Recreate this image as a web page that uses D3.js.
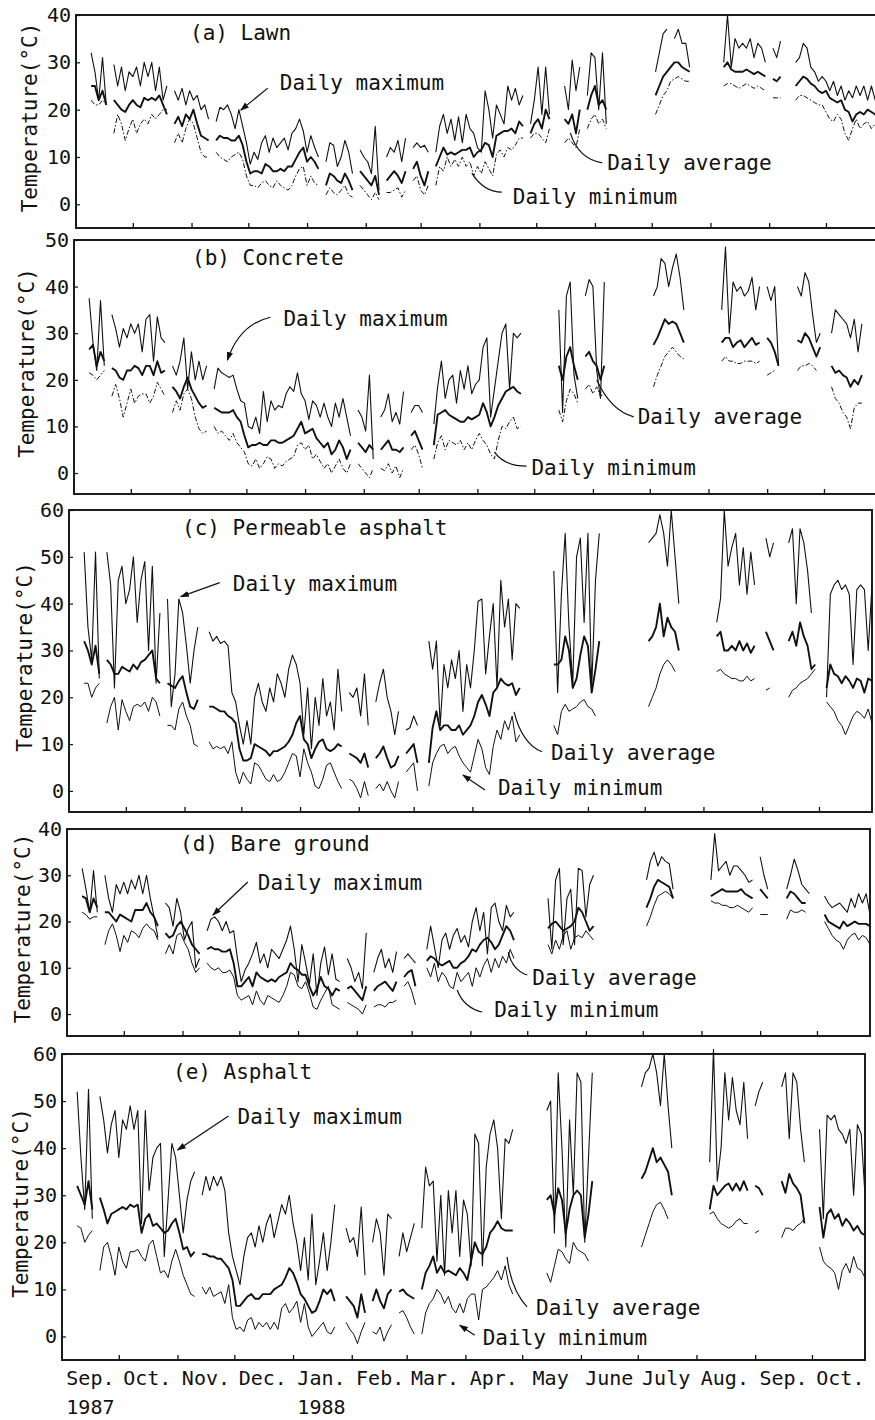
<!DOCTYPE html>
<html>
<head>
<meta charset="utf-8">
<script src="https://cdn.jsdelivr.net/npm/d3@7"></script>
<style>
    body {margin: 0; background: #fff;}
    svg text {font-family: "DejaVu Sans Mono", "Liberation Mono", monospace; fill: #111;}
</style>
</head>
<body>
<div class="content"></div>
<script>
const _ = null;
// one reading every 2 days from 1 Sep 1987, one row per month (Sep 87 ... Oct 88)
const lawnMax = [
    _,_,_,_,32,28,22,31,21,_,29.5,25,29,24,28,
    27,29,25,30,27,30,24,29,22,25,_,24,22,24.5,21,24,
    22,23,20,21,18,_,17.5,20.5,20,21,19,16,20,16.5,13,
    8.5,11,9.5,13,14.5,11,14,12,13,14,11.5,15,16,18,15.5,
    11,14.5,12,10,_,9,13,12.5,8,10,13.5,11,6.5,_,11.5,10,
    9,6.5,16.5,3,_,10,12,11,13.5,9,14,_,12,13,
    12,12.5,11,_,11,16.5,19,15,18,13.5,18.5,13,19,16,15,12,
    11,24,20,14,21,19,17,25,22,24.5,21,23,_,17,22,
    29,19,29,19,_,_,_,25,20,30.5,24,29,_,23,32,
    31,20,32,17,_,_,_,_,_,_,_,_,_,_,_,
    _,28,32,36,37,_,35,37,34,34,29,_,_,_,_,_,
    _,_,_,30,40,29,35,33,34,33,35,31,34,33,30,
    _,33,31,34.5,_,_,_,30,31,34,33,29,28,26,27,
    26,24,26,23,25,22,24,22.5,25,23,25,22,25,22,25,23
];
const lawnAvg = [
    _,_,_,_,25,25,22,24,21,_,22,21,20,19.5,21,
    22,21,20.5,22.5,22,22.5,22,23,21,19,_,17,18.5,16.5,19,18,
    20,17,14.5,14,13.5,_,13.5,14.5,14,14,13.5,13.5,14.5,12.5,9,
    6.5,7,7,6.5,8.5,8,7,7,7.5,7,8,8,9.5,11,12,
    9,10,9,7.5,_,4,6.5,6,5,4.5,6.5,5,3,_,7,6,
    5,4,6,2,_,5,6,7,6,4.5,7,_,7.5,9,
    6,4,7,_,8,10,12,10.5,11,10.5,11,11.5,11.5,12,10,11,
    11.5,13,12.5,10,14.5,15,15.5,15.5,16,15,17.5,16.5,_,15,17,
    18,16,20,18,_,_,_,18,17,19,15,20,_,20,23,
    25,21,22,20,_,_,_,_,_,_,_,_,_,_,_,
    _,23,25,27,28,29,30,30,29,28.5,28,_,_,_,_,_,
    _,_,_,29,30,28.5,28,28,28,28.5,28,27.5,28,27.5,27,
    _,26.5,26,27,_,_,_,25,26,27,26.5,25.5,25,24,23.5,
    24,22.5,22,21.5,22,20,19.5,17.5,19,19.5,19,20,19.5,19,19.5,19
];
const lawnMin = [
    _,_,_,_,22,21,21,22,21,_,15,19,17,13.5,16,
    18,15,17,18,17,19,18,19,20,20,_,13,15,13,16,18,
    17,14,11,10,10,_,11,10,9.5,9,10,10.5,11,9.5,6,
    4,4,3.5,4.5,5,4,3.5,5,4,3.5,3,4,6,7.5,8,
    4,6,4.5,4,_,2,3.5,2.5,2,3,4,2,1.5,_,4,3,
    2,1,2.5,1,_,2.5,2.5,3,3.5,1.5,3,_,5,6,
    3,2,4,_,4,8,7,10,8,9.5,8,10,8,9,6,8,
    6.5,9,7.5,6,10.5,11.5,10,12,11.5,12.5,14,14,_,14,15,
    15,14,13,16,_,_,_,13,14,13,12,16,_,16,18,
    19,17,18,16,_,_,_,_,_,_,_,_,_,_,_,
    _,19,21,23,24,26,26.5,27,26.5,26,26,_,_,_,_,_,
    _,_,_,25,25.5,25.5,25,24.5,25,25.5,25,24.5,25,24.5,24,
    _,22.5,22.5,22.5,_,_,_,22,23,23,22.5,22,21.5,21,21,
    19.5,18,17.5,19,18,15,13.5,16,18,16,17,17.5,16,17,17.5,16
];

const concreteMax = [
    _,_,_,_,37.5,28,22,37,23,_,34,31,27,31,29,
    32,30,32,26,33,34,24,33.5,29,28,_,23,21,24,29,18,
    26,20,24,20,23,_,18,22.5,21.5,21,20.5,21,18,15.5,15,
    10,9.5,12,8.5,17.5,11,15.5,13.5,14.5,14,17,18.5,17.5,21.5,17,
    15.5,11.5,15.5,14.5,12,15,12,10,15,12,16,12,8,_,13.5,12,
    9,21,3,_,12,13.5,17,11,13,10.5,17.5,_,13,14.5,
    14.5,13,_,_,10.5,18.5,24,16,20,21,15,22,18,23,17,19,
    20,27,29,12,18,24,30,32,18,30,29,30,_,_,_,
    _,_,_,_,_,_,35,13,38,41,21,16,_,38,41.5,
    40,22,16,41,_,_,_,_,_,_,_,_,_,_,_,
    _,38,40,46,45,40,44,47,42,35,_,_,_,_,_,_,
    _,_,_,35,48.5,30,41,39,40,38,39,42,35,40,_,
    40,37,40,23,_,_,_,_,40,38,43,41,34,28,30,
    _,_,30,35,34,33,32,29,33,26,32,_,_,_,_,_
];
const concreteAvg = [
    _,_,_,_,26.5,27.5,23,26,24,_,22.5,22,20.5,20,22,
    22,23,22.5,21,23,23,21,24,21.5,22,_,18.5,17.5,16,18.5,20.5,
    18,16.5,15,14,14.5,_,14,13.5,13,13,13,13.5,12,11,8,
    5.5,6,6,6.5,6,6,7,7,6.5,6.5,7,7.5,8,9.5,11,
    8.5,9,9.5,7.5,6.5,5.5,6.5,4,5,7,5.5,3,5,_,6.5,5.5,
    4.5,6,5,_,5,6,7,5,5,4.5,5.5,_,8,9,
    7,5,_,_,6,12.5,13,13.5,12.5,12,11.5,11,11,12,11.5,12,
    12.5,15,13,10,12,14.5,16,17.5,18,18.5,17.5,17,_,_,_,
    _,_,_,_,_,_,23,20,25,27,23,20,_,25,26,
    24,23,20,23,_,_,_,_,_,_,_,_,_,_,_,
    _,27.5,29,31,33,32,32.5,32,30,28,_,_,_,_,_,_,
    _,_,_,28,29,29,27,28,28.5,27,28,29,27.5,28,_,
    29,28,26,23,_,_,_,_,28.5,28,30,29,27,25,27,
    _,_,23,21.5,22,21,20.5,18.5,20,19,21,_,_,_,_,_
];
const concreteMin = [
    _,_,_,_,21.5,21,20,21,22,_,16.5,19,16,12,15,
    18,15,16.5,17,17,15,16.5,19.5,18,16.5,_,13,15.5,13.5,17,18,
    16,12,9.5,8.5,9,_,10,8.5,9,8,7,8.5,6.5,5.5,4.5,
    2,1.5,3,1,2,3.5,3,1,2,1.5,2.5,3,3.5,6,6.5,
    5,6,3,4,2.5,1,2,0,1.5,3,1,0,2,_,2,1,
    0,-1,1,_,1,0.5,2,0,1.5,-1,1,_,5,6,
    4,1,_,_,3,6.5,8,5,7,6.5,6,7,5,6.5,5,7,
    8.5,7,6,4,3,7,10,9.5,11,12,9.5,10,_,_,_,
    _,_,_,_,_,_,13.5,11,15.5,18,17,15,_,18,19,
    17,18.5,16.5,17,_,_,_,_,_,_,_,_,_,_,_,
    _,18.5,21,23,25,26,27,26,25,24.5,_,_,_,_,_,_,
    _,_,_,24,25,24,24,23.5,23.5,24,24,24,23.5,24,_,
    21,21.5,22,_,_,_,_,_,22,23,23,23.5,23,22,_,
    _,_,18.5,16,15,13,12,9.5,14,15,15,_,_,_,_,_
];

const permeableMax = [
    _,_,_,_,51,35,28,51,24,_,51,44,22,45,48,
    40,43,50,36,45,49,30,48,23,38,_,41,18,25,41,38,
    31,23,30,35,_,_,34,32,33,31.5,32,31,21,19,14,
    10,15,10,20,23,19,17,22,19,25,23,20,26,29,27,
    23,12,22,9,20,14,24,16,19,13,26,17,_,21,20,22,
    16,25,14,_,19,23,26,20,17,12,17,_,13,13.5,
    16,14,_,_,32,26,32,14,27,22,28,24,30,17,27,22,
    30,40.5,41,25,33,40,22,45,35,41,28,40,39,_,_,
    _,_,_,_,_,_,47,21,42,55,35,23,50,54,36,
    55,22,45,55,_,_,_,_,_,_,_,_,_,_,_,
    _,53,54,55,59,55,48,60,50,40,_,_,_,_,_,_,
    _,_,_,36,41,60,48,52,55,44,52,42,51,44,_,
    _,54,50,53,_,_,_,53,56,40,56,53,47,38,_,
    _,_,20,42,44,45,43,44,42,27,43,44,43,30,44,43
];
const permeableAvg = [
    _,_,_,_,32,30,27,31,25,_,28,27,25,25,26.5,
    26,25.5,27,26,27.5,28,29,30,24,23,_,23,22.5,22,23.5,24.5,
    21,18,17.5,19.5,_,_,18,18,17.5,17,17,16,15.5,14.5,9,
    6.5,6.5,7,10,9.5,9,8.5,7.5,8.5,8.5,9,9.5,10.5,12,14.5,
    16,11,10,7,9,10.5,11,9,8.5,9,10,9.5,_,8,7.5,7,
    6,8,5,_,7,8,9.5,7,5,5.5,7.5,_,8,9,
    10,6,_,_,6,13.5,17,13,14,14,13,13,14,12,13,14,
    16,19,20.5,18.5,16,21,22,24,23,22.5,23,20.5,22,_,_,
    _,_,_,_,_,_,27,27,28,33,30,22,24,29,33,
    31,21,26,32,_,_,_,_,_,_,_,_,_,_,_,
    _,32,33,35,40,33,37,35,34,30,_,_,_,_,_,_,
    _,_,_,33,34,30,30,31,30,32,30,31.5,29.5,31,_,
    _,34,32,30,_,_,_,32,34,31,36,33,31,26,27,
    _,_,22,27,25,24.5,23,24.5,23.5,22,24,23.5,21,24,23.5,23
];
const permeableMin = [
    _,_,_,_,23,23,20,22,23,_,14.5,18,20,13,19.5,
    17,15,18,18.5,18,19,17,20,19,16,_,14,14,13,17.5,19,
    16,14,10,9.5,_,_,10.5,9,9.5,9,9.5,8,10.5,4,1.5,
    4,2.5,1.5,6,5.5,4,2.5,2,3.5,2,2.5,4,6,8,7.5,
    3,9,6,4,1,0.5,2.5,5.5,6,4,2,0.5,_,2.5,2,0.5,
    -1.5,2,-1,_,0.5,1.5,0,2,0,-1.5,2,_,4,5,
    6,0,_,_,1,6,8,9.5,10,8,9,9.5,7.5,6,5,4,
    7.5,11,9,5,3.5,9.5,13,11,15,13,16,10.5,12,_,_,
    _,_,_,_,_,_,14,12,17,18.5,17,17.5,18,19,19.5,
    18,17.5,16,_,_,_,_,_,_,_,_,_,_,_,_,
    _,18,20,22,25,27,28,27,25.5,_,_,_,_,_,_,_,
    _,_,_,25.5,26,25,24.5,24,24,23.5,23.5,24.5,23.5,24,_,
    _,21.5,22,_,_,_,_,20,21.5,22,23,23.5,24,25,26,
    _,_,19,18,17,15,14,12,14,16,17,16.5,15.5,17.5,14.5,13.5
];

const bareMax = [
    _,_,_,_,31.5,27,22,31,22,_,30,25,22,28,26,
    28.5,26,29,27,30,26,30,25,21,16.5,_,24,23,19,25,22,
    16,18.5,20,10,12,_,18,20.5,21,20,18,20,17.5,18,12,
    7,9.5,11,13,15.5,11,13,10,14,13,12,14,16,19,14,
    7,15,11,6.5,13,4,11,14.5,8.5,13,7.5,7,_,12,10,7,
    9,5.5,17.5,_,9,12,14,10,12,9,13.5,_,12,13,
    12,11,_,_,14,19,14.5,10,16,17.5,14,17,18.5,15.5,17,14.5,
    20,23,18,22,13,23,24,20,18,23.5,21,22,_,_,_,
    _,_,_,_,_,25,14,29,31.5,15,25,27,15,31.5,31,
    21,28,30,_,_,_,_,_,_,_,_,_,_,_,_,
    _,29,33,35,32,34,33,32.5,27,_,_,_,_,_,_,_,
    _,_,29,39,31,32,33,30,32,32,31,30,28.5,29,_,
    34,30,27,_,_,_,_,27,30,33.5,31,28,27,26,_,
    _,_,25.5,24,23,23.5,24,23,22,25,23,26,24,26,21.5,25
];
const bareAvg = [
    _,_,_,_,25.5,25,22,25,23,_,22,22,21,20,21.5,
    21,20.5,20,22.5,22.5,22.5,24,22,21,19,_,17.5,16.5,17,19,20,
    18.5,17,15,14,13,_,14,14.5,14,14,13.5,13.5,14,11,6,
    6,7,8,6,9,8,7.5,7,7.5,7,8,8.5,9,11,10,
    9.5,8.5,8.5,6,4,5.5,8,6,5.5,4,5.5,5,_,5.5,6,5,
    4,3,6,_,5,6,6.5,7,6,5,7,_,8,9,
    9.5,6,_,_,11.5,12.5,12,11,10.5,11,11.5,10,10,11,11.5,12.5,
    14,13.5,15,16,16.5,15.5,14,15,17,19,18,16,_,_,_,
    _,_,_,_,_,18.5,19.5,20,19,18,18.5,19,20,23,22,
    20,18,19,_,_,_,_,_,_,_,_,_,_,_,_,
    _,23,25,27.5,29,28.5,28,27.5,25,_,_,_,_,_,_,_,
    _,_,25.5,26,26.5,27,26.5,26.5,26.5,26.5,27,26,25.5,25,_,
    27,26,25,_,_,_,_,25,26.5,26,25,24,24,_,_,
    _,_,21.5,20,19.5,19,18.5,20,19,19.5,20,19.5,19.5,19.5,19,19.5
];
const bareMin = [
    _,_,_,_,22,21.5,20.5,21,21,_,15,18,19.5,17,13.5,
    17,15.5,18,17.5,16.5,18.5,19.5,18.5,18,16,_,13,15,13,17,17.5,
    15.5,14,11,9,10,_,11,10,9.5,10,9,9,9.5,8,4,
    3,3.5,4,2,5,3,2,4,3.5,3,2.5,4,6,9,8.5,
    6,5.5,7,4.5,1.5,1,3,4.5,6,2,1.5,1,_,2.5,2,1.5,
    1,0,2,_,1.5,2,2,1.5,2.5,2.5,3,_,6,7,
    5,2,_,_,10,8,11,7,9,8,6,5.5,9,7,8,9,
    6,10,8,10.5,12,9,12,10,12.5,11,14,12,_,_,_,
    _,_,_,_,_,15,13,16,14,17,18,14,16.5,17,16.5,
    18,17,16,_,_,_,_,_,_,_,_,_,_,_,_,
    _,19,21,23.5,25.5,26,26.5,26,25,_,_,_,_,_,_,_,
    _,_,24.5,24,24,23.5,23.5,23,23,23.5,23,22.5,22,23,_,
    21.5,21.5,21.5,_,_,_,_,20.5,22.5,22,22,22.5,22,_,_,
    _,_,20,18.5,17,16,15.5,14,16,17,17.5,16,17,16.5,15,14
];

const asphaltMax = [
    _,_,_,_,52,38,27,52.5,25,_,51,46,39,45,48,
    38,46,44,49,44,48,24,48,31,38,40,41,17,29,41,38,
    30,22,29,33,35,_,30,34,31,34,32,34,31,22,17,
    14,11,17,21,22,19,23.5,20,24,26,21,24.5,28,26,30,
    24,20,14,21,12,26,11,16,22,14,20,28,_,_,23,20,
    21,17,27.5,13,_,20,25,22,13,26,25,_,17,22,
    18,21,24,_,23,36,32,33,16,30,13,31,22,31,17,29,
    26,15,43,41,15,36,43,46,40,25,42,41,44,_,_,
    _,_,_,_,_,_,48,50,22,56,40,19,46,30,56,
    54,20,38,56,_,_,_,_,_,_,_,_,_,_,_,
    _,53,56,57,60,56,49,60,49,40,_,_,_,_,_,_,
    _,_,_,37,61,33,40,56,46,55,48,45,54,42,_,
    49,52,54,_,_,_,_,53,56,42,56,54,44,37,_,
    _,_,44,25,47,46,47,44,43,41,44,30,45,43,30,44
];
const asphaltAvg = [
    _,_,_,_,32,30,28,33,27,_,29.5,27,24,26,26.5,
    27,27.5,27,28,27.5,28,22,25,26,23.5,24,23,22,22.5,24,25,
    22,18.5,19,17,18,_,17.5,17.5,17,17,16.5,16.5,15.5,14.5,12,
    6.5,6.5,7.5,8.5,9,8,8,9,9,9,10,10.5,11,12.5,14.5,
    13.5,11.5,9,8,6.5,5,5.5,7.5,10,9,10,7.5,_,_,8.5,7.5,
    6.5,4,9,5,_,7.5,10,7.5,6,9,10,_,9.5,10,
    9,8.5,8,_,10,13.5,15,17,13.5,15,13.5,14,13.5,13,14.5,13.5,
    12,16,20,18,17.5,19,22,23,24.5,23,22.5,22.5,22.5,_,_,
    _,_,_,_,_,_,29,30,26,31.5,29,22,27,30,31,
    30,21,26,33,_,_,_,_,_,_,_,_,_,_,_,
    _,33.5,35,37.5,40,37,38,36.5,35,30,_,_,_,_,_,_,
    _,_,_,27,32,30,31,32,32.5,31,32.5,31,33,31,_,
    32,31.5,30,_,_,_,_,33,30.5,34.5,32.5,31.5,30,24,_,
    _,_,27.5,21,26,27,25,26,23.5,25,24,22.5,23.5,22,21.5,23
];
const asphaltMin = [
    _,_,_,_,23.5,23,20,21.5,22.5,_,14,19,20,17,13,
    19,16,14.5,18,18,18.5,17,16,19.5,20.5,17,13.5,14,12.5,16,18.5,
    16,13,11,9,8.5,_,10.5,9,10.5,8.5,9,9.5,7,11,4,
    1.5,2,1,3.5,4,1.5,3,2,3,1.5,3,1.5,6,7,5,
    6,7.5,3,7,2,0,1,2,3,1,0.5,2,_,_,3,1.5,
    0.5,-1.5,1,3,_,1,0.5,2,-1,1,2.5,_,5,5.5,
    4,2,0.5,_,0.5,5,7,8,10,9,7,8.5,6,5,7,5,
    8,9,9,3.5,10,10.5,11.5,12.5,14,12,15,11,9,_,_,
    _,_,_,_,_,_,13.5,11.5,15,18.5,18,16.5,15.5,20,18.5,
    18,17.5,16,_,_,_,_,_,_,_,_,_,_,_,_,
    _,19,21.5,24,26.5,28,28.5,27,25,_,_,_,_,_,_,_,
    _,_,_,26,26.5,25,24,23.5,23,23.5,24.5,25,24,24,_,
    22,22.5,_,_,_,_,_,21,23,23,22.5,23.5,24,25,_,
    _,_,19,16,15,14.5,13.5,10,14,15.5,13.5,17,14.5,14,12.5,13
];

const monthLabels = ['Sep.', 'Oct.', 'Nov.', 'Dec.', 'Jan.', 'Feb.', 'Mar.', 'Apr.', 'May', 'June', 'July', 'Aug.', 'Sep.', 'Oct.'];
const yearLabels = ['1987', '1988'];
const panelTitles = ['(a) Lawn', '(b) Concrete', '(c) Permeable asphalt', '(d) Bare ground', '(e) Asphalt'];
const tickSets = [[0, 10, 20, 30, 40], [0, 10, 20, 30, 40, 50], [0, 10, 20, 30, 40, 50, 60], [0, 10, 20, 30, 40], [0, 10, 20, 30, 40, 50, 60]];
const seriesNames = ['Daily maximum', 'Daily average', 'Daily minimum'];

(function () {
    let width = 875;
    let height = 1420;
    let ink = '#111';
    let start = new Date(1987, 8, 1);
    let end = new Date(1988, 9, 29);
    let dateAt = function (i) {
        return d3.timeDay.offset(start, 2 * i);
    };

    // page layout of the five stacked panels (the scan is slightly skewed, so each has its own left edge)
    // notes: tip = [days after 1 Sep 1987, temperature], the rest are pixel offsets from the tip
    let panels = [
        {max: lawnMax, avg: lawnAvg, min: lawnMin, left: 76, top: 15, bottom: 228, yLo: -5, yHi: 40,
            titleX: 190, titleY: 33, axisTitleX: 30, minDash: '5,2,1.5,2',
            notes: [
                {tip: [87, 19.9], tail: [27, -22], text: [39, -27], arrow: true},
                {tip: [261, 15.1], tail: [32, 30], ctrl: [8, 26], text: [37, 30]},
                {tip: [209, 6.6], tail: [30, 19], ctrl: [12, 19], text: [41, 24]}
            ]},
        {max: concreteMax, avg: concreteAvg, min: concreteMin, left: 74, top: 240, bottom: 494, yLo: -4.5, yHi: 50,
            titleX: 192, titleY: 258, axisTitleX: 27, minDash: '5,2,1.5,2',
            notes: [
                {tip: [81, 24.2], tail: [43, -43], ctrl: [12, -36], text: [56, -42], arrow: true},
                {tip: [276, 20], tail: [37, 37], ctrl: [14, 31], text: [41, 37]},
                {tip: [222, 4.5], tail: [32, 14], ctrl: [10, 14], text: [37, 16]}
            ]},
        {max: permeableMax, avg: permeableAvg, min: permeableMin, left: 69, top: 510, bottom: 812, yLo: -4.5, yHi: 60,
            titleX: 182, titleY: 528, axisTitleX: 25, minDash: null,
            notes: [
                {tip: [59, 41.5], tail: [39, -14], text: [52, -13], arrow: true},
                {tip: [235, 16.9], tail: [28, 40], ctrl: [8, 32], text: [37, 41]},
                {tip: [208, 3.4], tail: [22, 15], text: [35, 13], arrow: true}
            ]},
        {max: bareMax, avg: bareAvg, min: bareMin, left: 67, top: 829, bottom: 1036, yLo: -4.75, yHi: 40,
            titleX: 180, titleY: 844, axisTitleX: 23, minDash: null,
            notes: [
                {tip: [77, 21.4], tail: [35, -33], text: [45, -32], arrow: true},
                {tip: [233, 13.4], tail: [19, 23], ctrl: [4, 18], text: [24, 26]},
                {tip: [206, 5.2], tail: [25, 22], ctrl: [7, 18], text: [37, 20]}
            ]},
        {max: asphaltMax, avg: asphaltAvg, min: asphaltMin, left: 62, top: 1054, bottom: 1360, yLo: -5, yHi: 60,
            titleX: 173, titleY: 1072, axisTitleX: 21, minDash: null,
            notes: [
                {tip: [61, 39.6], tail: [51, -34], text: [60, -33], arrow: true},
                {tip: [235, 16.9], tail: [20, 50], ctrl: [4, 33], text: [29, 51]},
                {tip: [210, 2.4], tail: [15, 10], text: [23, 12], arrow: true}
            ]}
    ];

    let svg = d3.select('.content').append('svg')
        .attr('width', width)
        .attr('height', height)
        .attr('viewBox', '0 0 ' + width + ' ' + height);

    svg.append('rect').attr('width', width).attr('height', height).attr('fill', '#fff');

    let defs = svg.append('defs');
    defs.append('marker')
        .attr('id', 'arrow')
        .attr('viewBox', '0 0 10 10')
        .attr('refX', 9)
        .attr('refY', 5)
        .attr('markerWidth', 9)
        .attr('markerHeight', 9)
        .attr('markerUnits', 'userSpaceOnUse')
        .attr('orient', 'auto')
        .append('path')
        .attr('d', 'M0,1.5L10,5L0,8.5Z')
        .attr('fill', ink);

    let monthStarts = d3.timeMonth.range(new Date(1987, 9, 1), new Date(1988, 10, 1));
    let monthMids = d3.timeMonth.range(start, new Date(1988, 10, 1)).map(function (m) {
        return d3.timeDay.offset(m, 15);
    });

    panels.forEach(function (p, k) {
        let right = p.left + 803;
        let x = d3.scaleTime().domain([start, end]).range([p.left, right]);
        let y = d3.scaleLinear().domain([p.yLo, p.yHi]).range([p.bottom, p.top]);
        let g = svg.append('g').attr('class', 'panel');

        g.append('clipPath').attr('id', 'clip' + k)
            .append('rect')
            .attr('x', p.left).attr('y', p.top - 12)
            .attr('width', right - p.left).attr('height', p.bottom - p.top + 12);

        // month ticks on the bottom edge, pointing inward
        g.append('g')
            .attr('transform', 'translate(0,' + p.bottom + ')')
            .attr('color', ink)
            .call(d3.axisBottom(x).tickValues(monthStarts).tickSize(-5).tickFormat(''))
            .call(function (a) {
                a.select('.domain').remove();
                a.selectAll('.tick line').attr('stroke-width', 1.3);
            });

        // temperature ticks, also pointing inward
        g.append('g')
            .attr('transform', 'translate(' + p.left + ',0)')
            .attr('color', ink)
            .call(d3.axisLeft(y).tickValues(tickSets[k]).tickSize(-4).tickPadding(5))
            .call(function (a) {
                a.select('.domain').remove();
                a.attr('font-size', 20).attr('font-family', null);
                a.selectAll('.tick line').attr('stroke-width', 1.2);
            });

        g.append('rect')
            .attr('x', p.left)
            .attr('y', p.top)
            .attr('width', right - p.left)
            .attr('height', p.bottom - p.top)
            .attr('fill', 'none')
            .attr('stroke', ink)
            .attr('stroke-width', 1.9);

        g.append('text')
            .attr('transform', 'translate(' + p.axisTitleX + ',' + ((p.top + p.bottom) / 2 - 4) + ') rotate(-90)')
            .attr('text-anchor', 'middle')
            .attr('dy', '0.35em')
            .attr('font-size', 21)
            .text('Temperature(°C)');

        g.append('text')
            .attr('x', p.titleX)
            .attr('y', p.titleY)
            .attr('dy', '0.35em')
            .attr('font-size', 21)
            .text(panelTitles[k]);

        let line = d3.line()
            .defined(function (v) {
                return v !== null;
            })
            .x(function (v, i) {
                return x(dateAt(i));
            })
            .y(function (v) {
                return y(v);
            });

        let series = [
            {values: p.max, w: 1.1, dash: null},
            {values: p.avg, w: 1.9, dash: null},
            {values: p.min, w: 1.0, dash: p.minDash}
        ];
        let lines = g.append('g').attr('clip-path', 'url(#clip' + k + ')');
        series.forEach(function (s) {
            lines.append('path')
                .datum(s.values)
                .attr('fill', 'none')
                .attr('stroke', ink)
                .attr('stroke-width', s.w)
                .attr('stroke-linejoin', 'round')
                .attr('stroke-dasharray', s.dash)
                .attr('d', line);
        });

        // labels with their leader lines
        p.notes.forEach(function (n, j) {
            let tx = x(d3.timeDay.offset(start, n.tip[0]));
            let ty = y(n.tip[1]);
            let d = 'M' + (tx + n.tail[0]) + ',' + (ty + n.tail[1]);
            if (n.ctrl) {
                d += 'Q' + (tx + n.ctrl[0]) + ',' + (ty + n.ctrl[1]) + ' ' + tx + ',' + ty;
            } else {
                d += 'L' + tx + ',' + ty;
            }
            g.append('path')
                .attr('d', d)
                .attr('fill', 'none')
                .attr('stroke', ink)
                .attr('stroke-width', 1.2)
                .attr('marker-end', n.arrow ? 'url(#arrow)' : null);
            g.append('text')
                .attr('x', tx + n.text[0])
                .attr('y', ty + n.text[1])
                .attr('dy', '0.35em')
                .attr('font-size', 21)
                .text(seriesNames[j]);
        });

        // month names only under the last panel
        if (k === panels.length - 1) {
            g.selectAll('.month')
                .data(monthMids)
                .enter()
                .append('text')
                .attr('class', 'month')
                .attr('x', function (m) {
                    return x(m);
                })
                .attr('y', p.bottom + 18)
                .attr('dy', '0.35em')
                .attr('text-anchor', 'middle')
                .attr('font-size', 20)
                .text(function (m, i) {
                    return monthLabels[i];
                });
            g.selectAll('.year')
                .data([monthMids[0], monthMids[4]])
                .enter()
                .append('text')
                .attr('class', 'year')
                .attr('x', function (m) {
                    return x(m);
                })
                .attr('y', p.bottom + 47)
                .attr('dy', '0.35em')
                .attr('text-anchor', 'middle')
                .attr('font-size', 20)
                .text(function (m, i) {
                    return yearLabels[i];
                });
        }
    });
})();
</script>
</body>
</html>
